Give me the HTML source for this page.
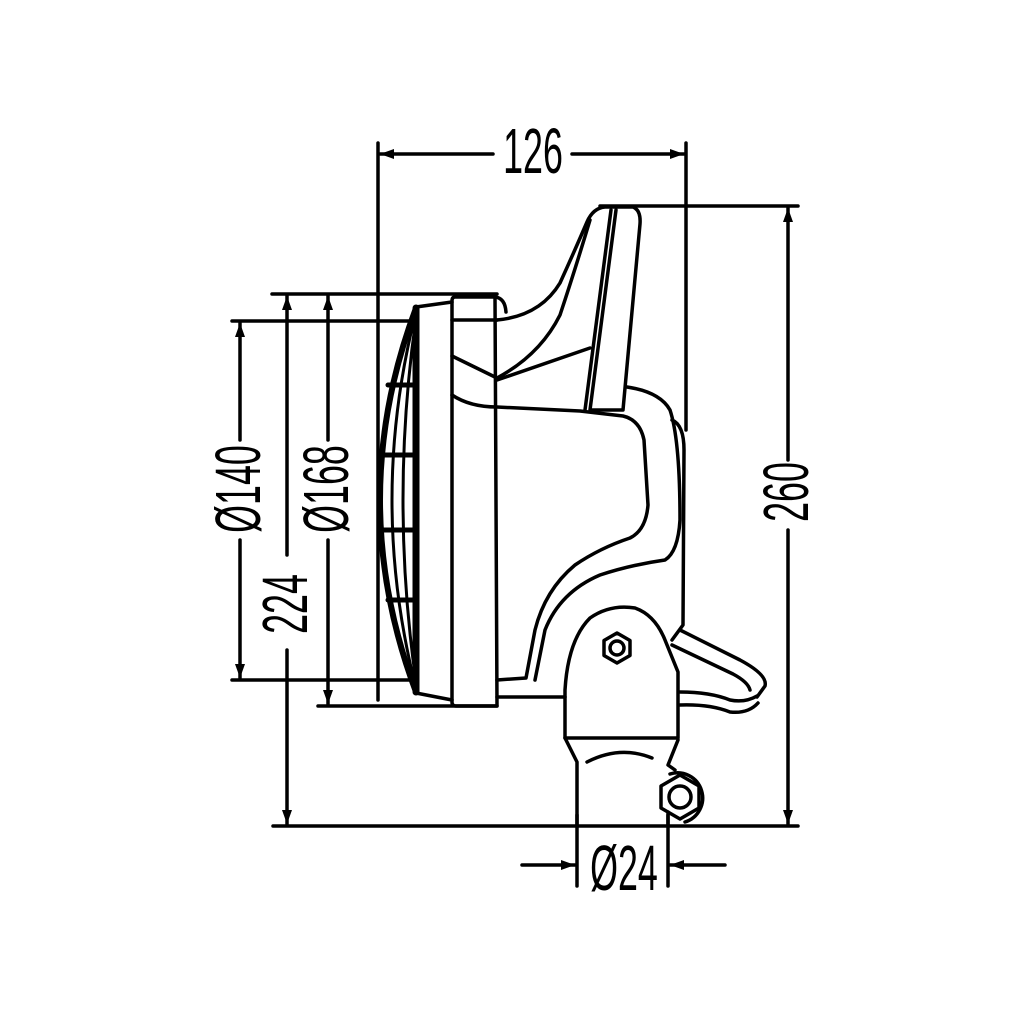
<!DOCTYPE html>
<html><head><meta charset="utf-8"><style>html,body{margin:0;padding:0;background:#fff}svg{display:block}</style></head>
<body>
<svg width="1024" height="1024" viewBox="0 0 1024 1024" xmlns="http://www.w3.org/2000/svg">
<defs>
<marker id="a" viewBox="0 0 14 10" refX="14" refY="5" markerWidth="14" markerHeight="10" markerUnits="userSpaceOnUse" orient="auto">
<path d="M0,0 L14,5 L0,10 z" fill="#000"/></marker>
</defs>
<rect width="1024" height="1024" fill="#fff"/>
<g fill="none" stroke="#000" stroke-width="3.5" stroke-linejoin="round" stroke-linecap="round">
<!-- extension lines -->
<line x1="378" y1="143" x2="378" y2="700"/>
<line x1="686" y1="143" x2="686" y2="430"/>
<line x1="600" y1="206" x2="798" y2="206"/>
<line x1="273" y1="826" x2="798" y2="826"/>
<line x1="272" y1="294" x2="497" y2="294"/>
<line x1="232" y1="321" x2="415" y2="321"/>
<line x1="232" y1="680" x2="415" y2="680"/>
<line x1="318" y1="706" x2="497" y2="706"/>
<line x1="577" y1="815" x2="577" y2="886"/>
<line x1="668" y1="815" x2="668" y2="886"/>
<!-- dimension lines -->
<line x1="493" y1="154" x2="380" y2="154" marker-end="url(#a)"/>
<line x1="572" y1="154" x2="684" y2="154" marker-end="url(#a)"/>
<line x1="788" y1="460" x2="788" y2="208" marker-end="url(#a)"/>
<line x1="788" y1="530" x2="788" y2="824" marker-end="url(#a)"/>
<line x1="287" y1="555" x2="287" y2="296" marker-end="url(#a)"/>
<line x1="287" y1="650" x2="287" y2="824" marker-end="url(#a)"/>
<line x1="240" y1="440" x2="240" y2="323" marker-end="url(#a)"/>
<line x1="240" y1="540" x2="240" y2="678" marker-end="url(#a)"/>
<line x1="328" y1="440" x2="328" y2="296" marker-end="url(#a)"/>
<line x1="328" y1="540" x2="328" y2="704" marker-end="url(#a)"/>
<line x1="522" y1="865" x2="575" y2="865" marker-end="url(#a)"/>
<line x1="725" y1="865" x2="670" y2="865" marker-end="url(#a)"/>

<!-- lens -->
<line x1="416" y1="308" x2="416" y2="692" stroke-width="7"/>
<path d="M416,308 Q344,500 416,692" stroke-width="6"/>
<path d="M416,312 Q368,500 416,688" stroke-width="3"/>
<path d="M416,318 Q390,500 416,682" stroke-width="3"/>
<line x1="388" y1="385" x2="416" y2="385" stroke-width="5"/>
<line x1="381" y1="455" x2="416" y2="455" stroke-width="5"/>
<line x1="381" y1="530" x2="416" y2="530" stroke-width="5"/>
<line x1="388" y1="600" x2="416" y2="600" stroke-width="5"/>
<!-- bezel -->
<line x1="416" y1="307" x2="452" y2="302"/>
<line x1="416" y1="693" x2="452" y2="700"/>
<path d="M455,297 L495,297 L497,706 L456,706 Q452,706 452,702 L452,301 Q452,297 455,297 z"/>
<path d="M495,297 Q505,298 506,312"/>
<!-- upper housing -->
<path d="M497,320 Q540,316 560,283 Q575,250 587,222 Q593,208 605,207 L633,207 Q641,210 640,224 L623,410 L590,410 L616,210"/>
<path d="M611,210 L585,410"/>
<path d="M452,320 L497,320"/>
<path d="M452,356 L497,378 Q540,355 560,315 Q575,270 590,220"/>
<path d="M497,380 L590,348"/>
<path d="M452,395 Q470,407 497,407 L580,411 L623,416 Q640,420 644,440 L648,505 Q646,530 630,538 Q600,548 575,565 Q545,590 535,630 L526,678 L497,680"/>
<path d="M627,387 Q660,392 670,410 Q680,440 680,520 Q678,552 665,560 Q630,565 600,575 Q560,592 545,630 L535,680"/>
<path d="M672,420 Q684,425 684,450 L683,625 L672,640"/>
<path d="M497,697 L565,697"/>
<!-- bracket -->
<path d="M565,738 L565,690 Q568,640 590,618 Q610,604 635,608 Q655,615 665,640 L678,672 L678,738 Z"/>
<path d="M565,738 L577,762 L577,826"/>
<path d="M678,740 L668,765 L675,770"/>
<line x1="668" y1="812" x2="668" y2="826"/>
<path d="M587,762 Q620,745 652,758"/>
<polygon points="617,633 630,640.5 630,655.5 617,663 604,655.5 604,640.5"/>
<circle cx="617" cy="648" r="7"/>
<polygon points="680,775 699,786 699,808 680,819 661,808 661,786"/>
<circle cx="680" cy="797" r="11"/>
<path d="M670,774 A25,25 0 1 1 685,822"/>
<!-- lever -->
<path d="M680,630 L740,660 Q768,675 765,686 L757,697"/>
<path d="M672,645 L733,674 Q748,682 750,690"/>
<path d="M680,692 Q710,692 730,700 Q745,703 757,696"/>
<path d="M680,705 Q710,704 730,712 Q748,714 758,703"/>
</g>
<g font-family="'Liberation Sans', sans-serif" font-size="64" fill="#000" text-anchor="middle">
<text transform="translate(533,173) scale(0.56,1)">126</text>
<text transform="translate(808,492) rotate(-90) scale(0.56,1)">260</text>
<text transform="translate(260,489) rotate(-90) scale(0.56,1)">Ø140</text>
<text transform="translate(348,489) rotate(-90) scale(0.56,1)">Ø168</text>
<text transform="translate(307,604) rotate(-90) scale(0.56,1)">224</text>
<text transform="translate(624,890) scale(0.56,1)">Ø24</text>
</g>
</svg>
</body></html>
